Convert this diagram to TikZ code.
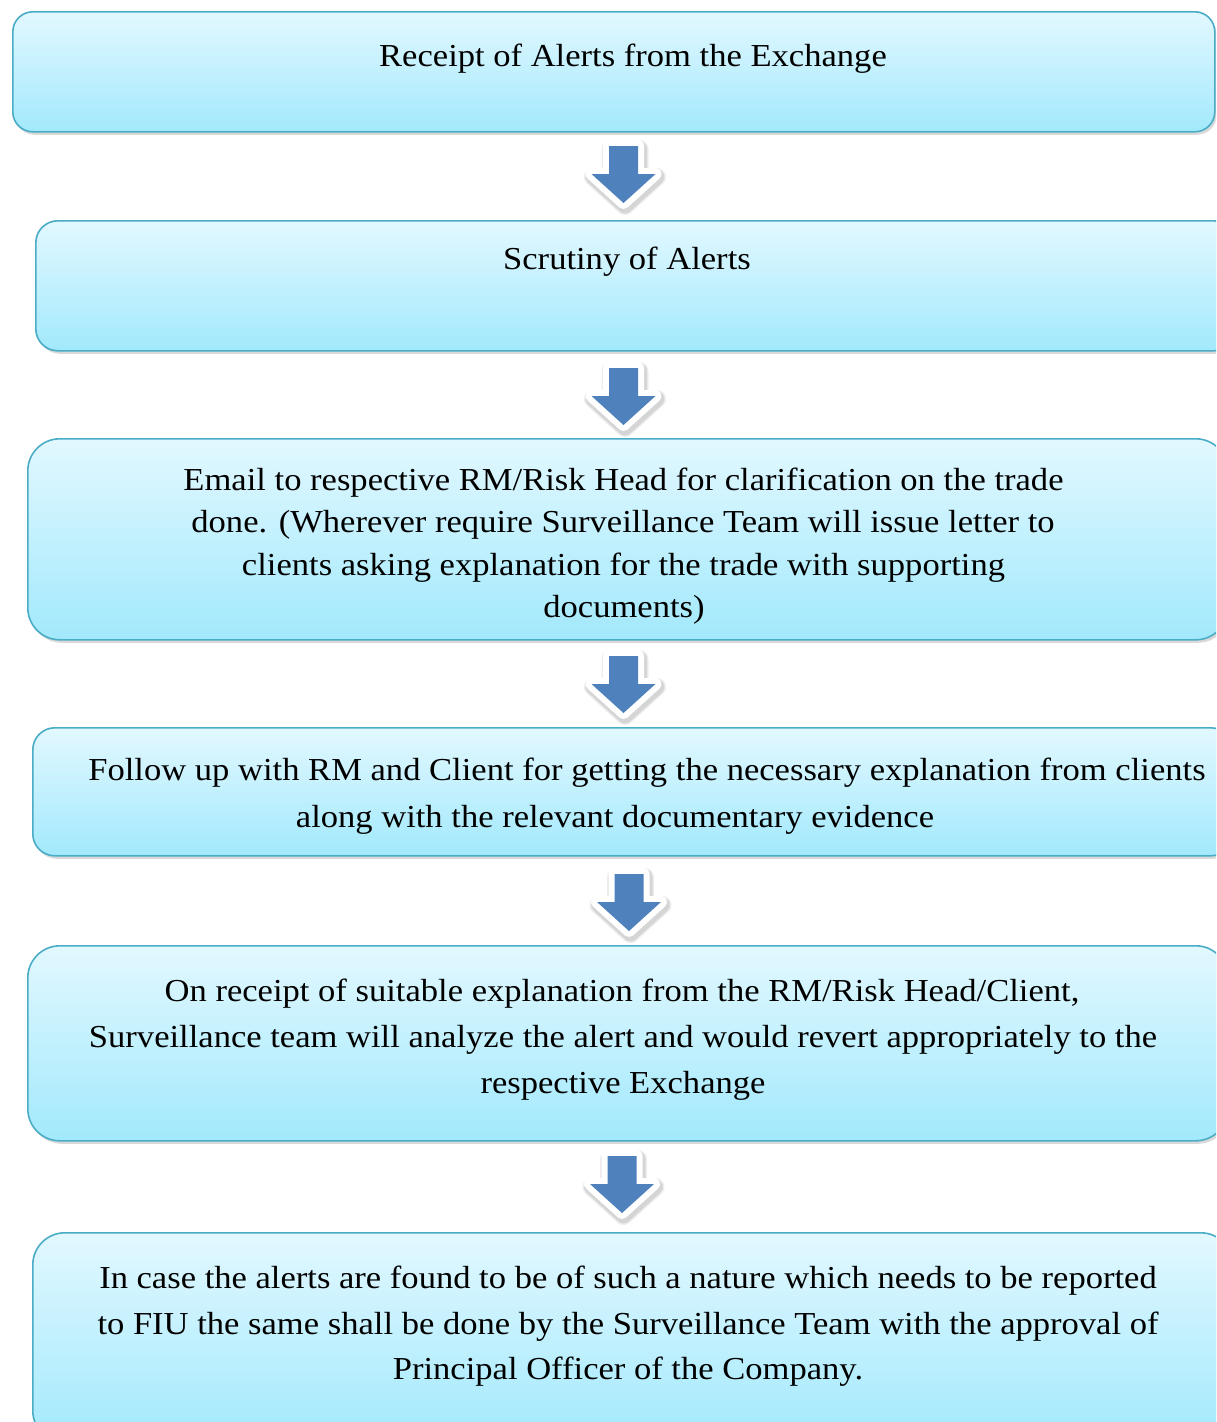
\documentclass[tikz,border=0pt]{standalone}
\usepackage{fontspec}
\setmainfont[FakeStretch=1.08]{Liberation Serif}
\usetikzlibrary{shadows}
\definecolor{boxtop}{HTML}{E2F8FF}
\definecolor{boxbot}{HTML}{A2E9FC}
\definecolor{boxline}{HTML}{4BACC6}
\definecolor{arrowblue}{HTML}{4F81BD}
\tikzset{
  stepbox/.style={rectangle, draw=boxline, line width=1.6pt, top color=boxtop, bottom color=boxbot,
    anchor=north west, inner sep=0pt,
    drop shadow={opacity=0.3, shadow xshift=2pt, shadow yshift=-3pt}},
  txt/.style={inner sep=0pt, anchor=base, font=\fontsize{32}{40}\selectfont},
  flowarrow/.pic={
    \def\arrowshape{(-14.5,0) -- (14.5,0) -- (14.5,28) -- (32,28) -- (0,57) -- (-32,28) -- (-14.5,28) -- cycle}
    \draw[black, opacity=0.07, line width=18pt, line join=round, shift={(1.5,3)}] \arrowshape;
    \draw[black, opacity=0.10, line width=15pt, line join=round, shift={(1.5,3)}] \arrowshape;
    \draw[white, line width=12pt, line join=round] \arrowshape;
    \fill[arrowblue] \arrowshape;
  }
}
\begin{document}
\begin{tikzpicture}[x=1pt,y=-1pt]
\useasboundingbox (0,0) rectangle (1216,1422);
\clip (0,0) rectangle (1216,1422);
% boxes
\node[stepbox, minimum width=1202pt, minimum height=120pt, rounded corners=20pt] (b1) at (12,11) {};
\node[stepbox, minimum width=1200pt, minimum height=130pt, rounded corners=22pt] (b2) at (35,220) {};
\node[stepbox, minimum width=1200pt, minimum height=201pt, rounded corners=32pt] (b3) at (27,438) {};
\node[stepbox, minimum width=1200pt, minimum height=128pt, rounded corners=22pt] (b4) at (32,727) {};
\node[stepbox, minimum width=1200pt, minimum height=195pt, rounded corners=32pt] (b5) at (27,945) {};
\node[stepbox, minimum width=1200pt, minimum height=210pt, rounded corners=32pt] (b6) at (32,1232) {};
% texts
\node[txt] (t1) at (633,66) {Receipt of Alerts from the Exchange};
\node[txt] (t2) at (627,269) {Scrutiny of Alerts};
\node[txt] (t3a) at (623.5,490) {Email to respective RM/Risk Head for clarification on the trade};
\node[txt] (t3b) at (623,532) {done. (Wherever require Surveillance Team will issue letter to};
\node[txt] (t3c) at (623.5,575) {clients asking explanation for the trade with supporting};
\node[txt] (t3d) at (624,617) {documents)};
\node[txt] (t4a) at (647,780) {Follow up with RM and Client for getting the necessary explanation from clients};
\node[txt] (t4b) at (615,827) {along with the relevant documentary evidence};
\node[txt] (t5a) at (622,1001) {On receipt of suitable explanation from the RM/Risk Head/Client,};
\node[txt] (t5b) at (623,1047) {Surveillance team will analyze the alert and would revert appropriately to the};
\node[txt] (t5c) at (623,1093) {respective Exchange};
\node[txt] (t6a) at (628,1288) {In case the alerts are found to be of such a nature which needs to be reported};
\node[txt] (t6b) at (628,1334) {to FIU the same shall be done by the Surveillance Team with the approval of};
\node[txt] (t6c) at (628,1379) {Principal Officer of the Company.};
% arrows between boxes
\coordinate (a1) at (623.5,146);
\coordinate (a2) at (623.5,368);
\coordinate (a3) at (623.5,656);
\coordinate (a4) at (629,874);
\coordinate (a5) at (622,1156);
\pic at (a1) {flowarrow};
\pic at (a2) {flowarrow};
\pic at (a3) {flowarrow};
\pic at (a4) {flowarrow};
\pic at (a5) {flowarrow};
\end{tikzpicture}
\end{document}
